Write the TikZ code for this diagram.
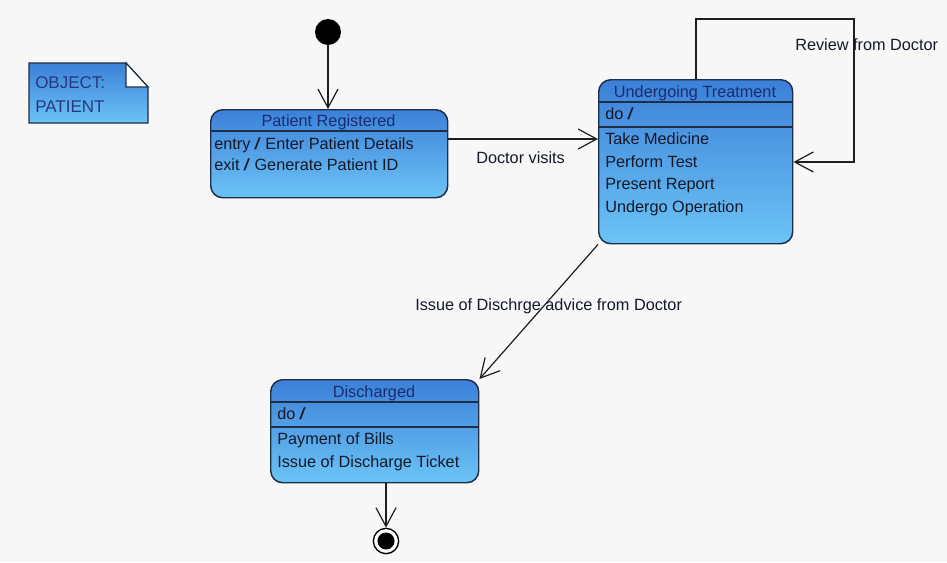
\documentclass[tikz,border=0pt]{standalone}
\usepackage{fontspec}
\setmainfont{Liberation Sans}
\usetikzlibrary{arrows.meta}
\definecolor{bg}{RGB}{247,247,247}
\definecolor{edge}{RGB}{31,45,70}
\definecolor{ttl}{RGB}{25,45,110}
\definecolor{txt}{RGB}{20,25,40}
\definecolor{notetxt}{RGB}{40,55,130}
\definecolor{gtop}{RGB}{60,128,216}
\definecolor{gbot}{RGB}{108,196,246}
\definecolor{ln}{RGB}{30,30,30}
\newcommand{\slsh}{\textbf{\itshape /}}
\begin{document}
\begin{tikzpicture}[x=0.75pt,y=-0.75pt,
  font=\fontsize{12.2}{14}\selectfont,
  statebox/.style={draw=edge, line width=1.1pt, rounded corners=9pt, top color=gtop, bottom color=gbot, anchor=north west, inner sep=0pt},
  lbl/.style={inner sep=0pt, anchor=base west, text=txt},
  ttlf/.style={inner sep=0pt, anchor=base, text=ttl},
  notef/.style={inner sep=0pt, anchor=base west, text=notetxt, font=\fontsize{12.75}{14}\selectfont},
  arr/.style={draw=ln, line width=0.9pt, -{Straight Barb[length=14pt,width=15pt]}},
  sep/.style={draw=edge, line width=0.9pt}]
\fill[bg] (0,0) rectangle (947,562);
\useasboundingbox (0,0) rectangle (947,562);

% note
\shade[top color=gtop, bottom color=gbot, draw=edge, line width=0.9pt]
  (29,63) -- (126,63) -- (148,87) -- (148,123) -- (29,123) -- cycle;
\filldraw[fill=white, draw=edge, line width=0.9pt] (126,63) -- (126,87) -- (148,87) -- cycle;
\node[notef] (n1) at (35,88) {OBJECT:};
\node[notef] (n2) at (35,112) {PATIENT};

% initial and final states
\node[circle, fill=black, minimum size=19.5pt, inner sep=0pt] (init) at (328,32) {};
\node[circle, draw=black, line width=1pt, fill=white, minimum size=19pt, inner sep=0pt] (fin) at (386,541) {};
\fill[black] (fin) circle (6.4pt);

% Patient Registered
\node[statebox, minimum width=177.75pt, minimum height=66pt] (pr) at (210,109) {};
\draw[sep] (210,131) -- (447,131);
\node[ttlf] (prt) at (328.5,126) {Patient Registered};
\node[lbl] (pr1) at (214,149) {entry \slsh{} Enter Patient Details};
\node[lbl] (pr2) at (214,170) {exit \slsh{} Generate Patient ID};

% Undergoing Treatment
\node[statebox, minimum width=145.5pt, minimum height=123pt] (ut) at (598,79) {};
\draw[sep] (598,102) -- (792,102);
\draw[sep] (598,127) -- (792,127);
\node[ttlf] (utt) at (695,97) {Undergoing Treatment};
\node[lbl] (ut0) at (605,119) {do \slsh};
\node[lbl] (ut1) at (605,144) {Take Medicine};
\node[lbl] (ut2) at (605,167) {Perform Test};
\node[lbl] (ut3) at (605,189) {Present Report};
\node[lbl] (ut4) at (605,212) {Undergo Operation};

% Discharged
\node[statebox, minimum width=156pt, minimum height=77.25pt] (dis) at (270,379) {};
\draw[sep] (270,402) -- (478,402);
\draw[sep] (270,427) -- (478,427);
\node[ttlf] (dist) at (374,397) {Discharged};
\node[lbl] (dis0) at (277,419) {do \slsh};
\node[lbl] (dis1) at (277,444) {Payment of Bills};
\node[lbl] (dis2) at (277,467) {Issue of Discharge Ticket};

% connectors
\draw[arr] (init) -- (init |- pr.north);
\coordinate (dv) at (520,139);
\draw[arr] (pr.east |- dv) -- (ut.west |- dv);
\node[lbl] (dvl) at (476,163) {Doctor visits};

\coordinate (lp1) at (696,19);
\coordinate (lp2) at (854,162);
\draw[arr] (ut.north -| lp1) -- (lp1) -| (lp2) -- (ut.east |- lp2);
\node[lbl] (lpl) at (795,50) {Review from Doctor};

\draw[arr] (ut.south west) -- (dis.north east);
\node[lbl] (udl) at (415,310) {Issue of Dischrge advice from Doctor};

\draw[arr] (fin |- dis.south) -- (fin.north);
\end{tikzpicture}
\end{document}
